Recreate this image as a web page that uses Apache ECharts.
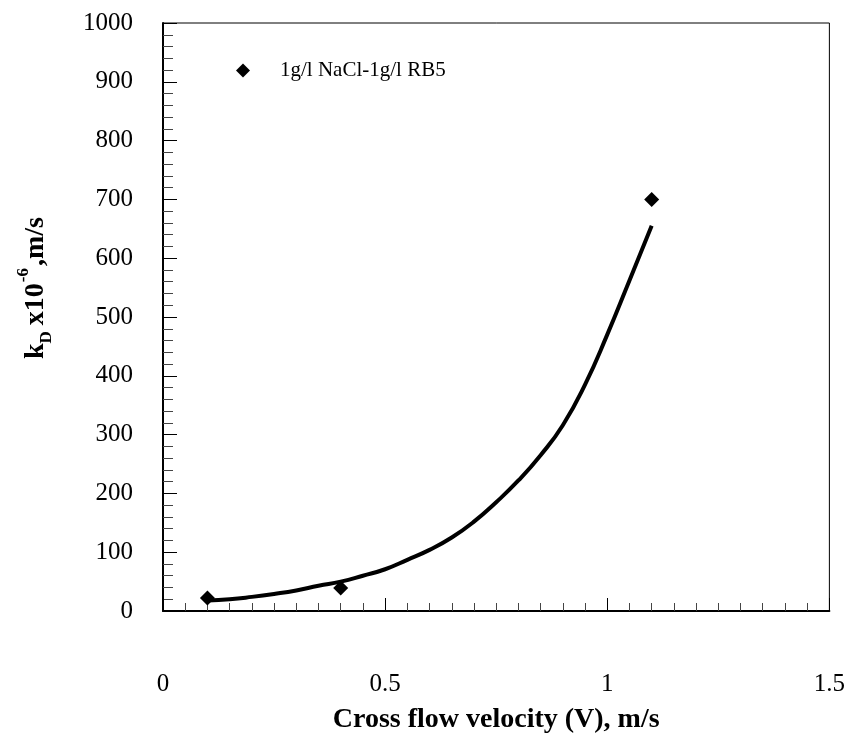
<!DOCTYPE html>
<html>
<head>
<meta charset="utf-8">
<script src="https://cdn.jsdelivr.net/npm/echarts@6/dist/echarts.min.js"></script>
<style>
html,body{margin:0;padding:0;background:#fff;}
#chart{width:848px;height:742px;}
</style>
</head>
<body>
<div id="chart"></div>
<script>
// Measured data points
const velocity = [0.1, 0.4, 1.1];
const kD = [22, 39, 700];
// Fitted curve
const fitVelocity = [0.10,0.15,0.20,0.25,0.30,0.35,0.40,0.45,0.50,0.55,0.60,0.65,0.70,0.75,0.80,0.85,0.90,0.95,1.00,1.05,1.10];
const fitKD = [18,20,24,29,35,43,50,60,71,87,104,125,152,185,222,265,316,385,470,562,655];
const seriesName = '1g/l NaCl-1g/l RB5';
const xTitle = 'Cross flow velocity (V), m/s';
// Y title pieces: [text, role]
const yTitleParts = [['k', 'main'], ['D', 'sub'], ['x10', 'main'], ['-6', 'sup'], [',m/s', 'main']];

const FONT = 'Liberation Serif';
const chart = echarts.init(document.getElementById('chart'), null, {renderer: 'canvas'});

// Build the rotated y-axis title with sub/superscripts
const styleFor = {
  main: {size: 28, dy: -9.5, gapBefore: 0},
  sub: {size: 17, dy: 1.5, gapBefore: 0},
  sup: {size: 17, dy: -21.5, gapBefore: 1}
};
const mctx = document.createElement('canvas').getContext('2d');
const pieces = [];
let cursor = 0;
yTitleParts.forEach(([t, role], i) => {
  const s = styleFor[role];
  const font = 'bold ' + s.size + 'px "' + FONT + '"';
  mctx.font = font;
  let gap = s.gapBefore;
  if (i > 0 && yTitleParts[i - 1][1] === 'sub') gap += 6;
  if (i > 0 && yTitleParts[i - 1][1] === 'sup') gap += 2;
  cursor += gap;
  const w = mctx.measureText(t).width;
  pieces.push({t, font, x: cursor, dy: s.dy});
  cursor += w;
});
const totalW = cursor;
const yTitleChildren = pieces.map(p => ({
  type: 'text',
  x: p.x - totalW / 2,
  y: p.dy,
  style: {text: p.t, font: p.font, fill: '#000', align: 'left', verticalAlign: 'middle'}
}));

const option = {
  backgroundColor: '#fff',
  animation: false,
  grid: {left: 163, right: 17, top: 23, bottom: 131, show: true, borderColor: '#000', borderWidth: 1},
  legend: {
    data: [seriesName],
    left: 236, top: 60, padding: 0,
    icon: 'diamond', itemWidth: 14, itemHeight: 14,
    itemStyle: {color: '#000', opacity: 1},
    textStyle: {fontFamily: FONT, fontSize: 21, color: '#000', padding: [0, 0, 0, 25]}
  },
  xAxis: {
    type: 'value', min: 0, max: 1.5, interval: 0.5,
    name: xTitle, nameLocation: 'middle', nameGap: 95,
    nameTextStyle: {fontFamily: FONT, fontSize: 28, fontWeight: 'bold', color: '#000'},
    axisLine: {onZero: false, lineStyle: {color: '#000', width: 2}},
    axisTick: {inside: true, length: 13, lineStyle: {color: '#000', width: 1}},
    minorTick: {show: true, splitNumber: 10, length: 8, lineStyle: {color: '#444', width: 1}},
    axisLabel: {margin: 61, fontFamily: FONT, fontSize: 25, color: '#000'},
    splitLine: {show: false}
  },
  yAxis: {
    type: 'value', min: 0, max: 1000, interval: 100,
    axisLine: {show: true, onZero: false, lineStyle: {color: '#000', width: 2}},
    axisTick: {show: true, inside: true, length: 14, lineStyle: {color: '#000', width: 1}},
    minorTick: {show: true, splitNumber: 5, length: 10, lineStyle: {color: '#444', width: 1}},
    axisLabel: {margin: 30, fontFamily: FONT, fontSize: 25, color: '#000', formatter: v => String(v)},
    splitLine: {show: false}
  },
  graphic: [{
    type: 'group',
    x: 45, y: 288,
    rotation: Math.PI / 2,
    children: yTitleChildren
  }],
  series: [
    {
      name: 'fit', type: 'line', smooth: true, showSymbol: false, silent: true,
      data: fitVelocity.map((v, i) => [v, fitKD[i]]),
      lineStyle: {color: '#000', width: 4},
      itemStyle: {color: '#000'},
      z: 2
    },
    {
      name: seriesName, type: 'scatter', symbol: 'diamond', symbolSize: 15,
      data: velocity.map((v, i) => [v, kD[i]]),
      itemStyle: {color: '#000', opacity: 1},
      z: 3
    }
  ]
};
chart.setOption(option);
</script>
</body>
</html>
